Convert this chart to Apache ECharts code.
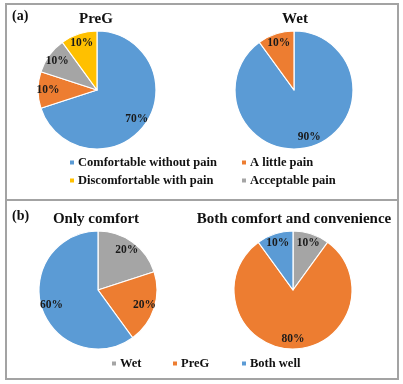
<!DOCTYPE html>
<html>
<head>
<meta charset="utf-8">
<script src="https://cdn.jsdelivr.net/npm/echarts@6/dist/echarts.min.js"></script>
<style>html,body{margin:0;padding:0;background:#fff}#c{width:403px;height:384px}</style>
</head>
<body>
<div id="c"></div>
<script>
// ---- data ----
const painCategories = ['Comfortable without pain', 'A little pain', 'Acceptable pain', 'Discomfortable with pain'];
const pregValues = [70, 10, 10, 10];
const wetValues = [90, 10, 0, 0];
const prefCategories = ['Wet', 'PreG', 'Both well'];
const onlyComfortValues = [20, 20, 60];
const bothValues = [10, 80, 10];
const panelTitles = ['PreG', 'Wet', 'Only comfort', 'Both comfort and convenience'];
const panelTags = ['(a)', '(b)'];

const colorMap = {
  'Comfortable without pain': '#5B9BD5',
  'A little pain': '#ED7D31',
  'Acceptable pain': '#A5A5A5',
  'Discomfortable with pain': '#FFC000',
  'Wet': '#A5A5A5',
  'PreG': '#ED7D31',
  'Both well': '#5B9BD5'
};
const FONT = 'Liberation Serif';

function mkData(cats, vals, transparent) {
  const out = [];
  cats.forEach((c, i) => {
    if (vals[i] > 0) out.push({ name: c, value: vals[i],
      itemStyle: { color: transparent ? 'rgba(0,0,0,0)' : colorMap[c] } });
  });
  return out;
}
const R = 59;
function pieSeries(id, center, cats, vals) {
  return [{
    type: 'pie', name: id, center: center, radius: R, startAngle: 90, clockwise: true,
    silent: true, animation: false,
    itemStyle: { borderColor: '#fff', borderWidth: 1.2 },
    label: { show: false }, labelLine: { show: false },
    data: mkData(cats, vals, false)
  }, {
    type: 'pie', name: id + '_lbl', center: center, radius: [33, R], startAngle: 90, clockwise: true,
    silent: true, animation: false,
    itemStyle: { borderWidth: 0 },
    label: { show: true, position: 'inside', formatter: p => p.value + '%',
      fontFamily: FONT, fontWeight: 'bold', fontSize: 11.5, color: '#1a1a1a' },
    labelLine: { show: false },
    data: mkData(cats, vals, true)
  }];
}

function titleAt(text, x, y, size) {
  return { text: text, left: x, top: y, textAlign: 'center', padding: 0,
    textStyle: { fontFamily: FONT, fontWeight: 'bold', fontSize: size, color: '#111' } };
}
function legendAt(name, x, y) {
  return { data: [name], left: x, top: y, padding: 0, orient: 'horizontal',
    icon: 'rect', itemWidth: 6, itemHeight: 6, itemGap: 0, selectedMode: false,
    textStyle: { fontFamily: FONT, fontWeight: 'bold', fontSize: 12.5, color: '#111', padding: [0, 0, 0, -2] } };
}

const option = {
  backgroundColor: '#fff',
  animation: false,
  title: [
    { text: panelTags[0], left: 12, top: 9, padding: 0,
      textStyle: { fontFamily: FONT, fontWeight: 'bold', fontSize: 14, color: '#111' } },
    { text: panelTags[1], left: 12, top: 209, padding: 0,
      textStyle: { fontFamily: FONT, fontWeight: 'bold', fontSize: 14, color: '#111' } },
    titleAt(panelTitles[0], 96, 12, 15),
    titleAt(panelTitles[1], 295, 12, 15),
    titleAt(panelTitles[2], 96, 212, 15),
    titleAt(panelTitles[3], 294, 212, 15)
  ],
  legend: [
    legendAt(painCategories[0], 68, 156),
    legendAt(painCategories[1], 240, 156),
    legendAt(painCategories[3], 68, 174),
    legendAt(painCategories[2], 240, 174),
    legendAt(prefCategories[0], 110, 357),
    legendAt(prefCategories[1], 171, 357),
    legendAt(prefCategories[2], 240, 357)
  ],
  series: [].concat(
    pieSeries('pa1', [97, 90], painCategories, pregValues),
    pieSeries('pa2', [294, 90], painCategories, wetValues),
    pieSeries('pb1', [98, 290], prefCategories, onlyComfortValues),
    pieSeries('pb2', [293, 290], prefCategories, bothValues)
  ),
  graphic: [
    { type: 'rect', shape: { x: 6, y: 4, width: 392, height: 375 },
      style: { fill: 'none', stroke: '#a3a3a3', lineWidth: 2 }, silent: true },
    { type: 'line', shape: { x1: 6, y1: 200, x2: 398, y2: 200 },
      style: { stroke: '#a3a3a3', lineWidth: 2 }, silent: true }
  ]
};
const chart = echarts.init(document.getElementById('c'), null, { renderer: 'canvas' });
chart.setOption(option);
</script>
</body>
</html>
